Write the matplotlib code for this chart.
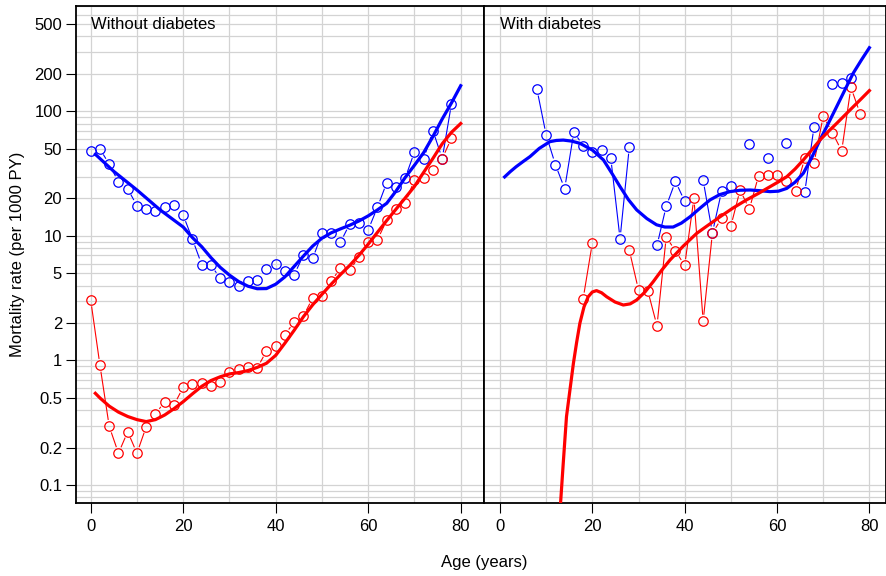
import numpy as np
import matplotlib
matplotlib.use("Agg")
import matplotlib.pyplot as plt
from matplotlib.ticker import NullLocator

plt.rcParams['font.family'] = ['Liberation Sans', 'DejaVu Sans']

nan = np.nan
ages = np.arange(0, 80, 2)

# observed rates (per 1000 PY), no diabetes
nodm_men = [48.4, 50, 37.7, 27.2, 23.9, 17.5, 16.5, 16.0, 17.0, 17.7,
            14.7, 9.4, 5.9, 5.8, 4.6, 4.3, 4.0, 4.35, 4.4, 5.4,
            5.96, 5.26, 4.9, 7.0, 6.6, 10.5, 10.5, 8.9, 12.5, 12.8,
            11.2, 17.0, 26.8, 24.6, 29.2, 47.3, 41.8, 70, 41.8, 115]
nodm_women = [3.06, 0.915, 0.296, 0.18, 0.268, 0.18, 0.294, 0.372, 0.467, 0.44,
              0.609, 0.651, 0.66, 0.624, 0.668, 0.813, 0.85, 0.887, 0.87, 1.19,
              1.31, 1.61, 2.04, 2.28, 3.18, 3.3, 4.35, 5.5, 5.3, 6.8,
              8.9, 9.3, 13.4, 16.4, 18.5, 28.1, 29, 33.9, 41.8, 61]
# observed rates, with diabetes (nan = no deaths)
dm_men = [nan, nan, nan, nan, 150.8, 64.7, 37.4, 24, 68.4, 53.1,
          47, 49.3, 42, 9.5, 51.6, nan, nan, 8.4, 17.3, 27.5,
          19, nan, 28, 10.6, 22.9, 25.2, nan, 54.8, nan, 42.6,
          nan, 56.2, nan, 22.4, 74.7, nan, 167, 170, 187, nan]
dm_women = [nan, nan, nan, nan, nan, nan, nan, nan, nan, 3.12,
            8.8, nan, nan, nan, 7.7, 3.68, 3.64, 1.9, 9.8, 7.6,
            5.8, 20.1, 2.07, 10.5, 13.9, 12.0, 23.4, 16.4, 30.5, 30.9,
            30.9, 27.8, 23, 42, 38.4, 91.5, 67.6, 48.2, 156, 96]

# fitted curves
fit_nodm_men_x = [1, 5, 10, 15, 20, 22, 24, 26, 28, 30, 32, 34, 36, 38, 40, 42, 44, 46, 48,
                  50, 52, 54, 56, 58, 60, 62, 64, 66, 68, 70, 72, 74, 76, 78, 80]
fit_nodm_men_y = [45.3, 33, 23.4, 16.2, 11.8, 9.7, 8.2, 6.7, 5.6, 4.85, 4.3, 3.95, 3.77, 3.78,
                  4.1, 4.7, 5.7, 6.9, 8.3, 9.6, 10.6, 11.4, 12.2, 13.2, 14.5, 16.2, 18.3,
                  22.9, 29.5, 37, 46.8, 63, 87, 117, 161]
fit_nodm_women_x = [1, 2, 4, 6, 8, 10, 12, 14, 16, 18, 20, 22, 24, 26, 28, 30, 32, 34, 36, 38,
                    40, 42, 44, 46, 48, 50, 52, 54, 56, 58, 60, 62, 64, 66, 68, 70, 72, 74,
                    76, 78, 80]
fit_nodm_women_y = [0.545, 0.5, 0.43, 0.385, 0.355, 0.335, 0.323, 0.335, 0.365, 0.41, 0.467,
                    0.54, 0.62, 0.69, 0.74, 0.78, 0.8, 0.83, 0.88, 0.95, 1.1, 1.38, 1.75,
                    2.25, 2.8, 3.4, 4.1, 4.9, 5.8, 7.0, 8.6, 10.7, 13.3, 16.4, 20.2, 25,
                    32.5, 42, 55, 68, 80]
fit_dm_men_x = [1, 2.2, 3.5, 5, 6.5, 8.5, 10.8, 12.2, 13.7, 15.5, 17.3, 20, 22.4, 24.2, 26,
                27.8, 29.6, 31.8, 33.9, 35.7, 37.5, 39.3, 41.2, 43.3, 45.5, 47.6, 49.8, 52,
                54.2, 56.3, 58.5, 60.3, 62.1, 63.9, 65.7, 67.5, 69.3, 71.1, 72.9, 74.7, 76.5,
                78.3, 80]
fit_dm_men_y = [29.8, 32.8, 36, 39.6, 43.4, 50.5, 57.2, 58.5, 58.9, 57.8, 55.5, 49, 40.8, 32,
                24.9, 19.6, 16.2, 13.8, 12.3, 11.8, 11.8, 12.7, 14.3, 16.7, 19.5, 21.5, 22.7,
                23.3, 23.4, 23.1, 22.7, 22.9, 24.1, 27, 31.9, 42.5, 59, 80, 109, 149, 203,
                260, 325]
fit_dm_women_x = [12.6, 13.1, 13.7, 14.4, 15.2, 15.9, 16.6, 17.3, 18.2, 19.1, 20, 20.9, 22,
                  23.1, 24.9, 26.7, 28.2, 29.6, 31.4, 33.2, 35, 36.8, 39.7, 42.6, 45.2, 47.7,
                  50.5, 53.4, 56, 58.5, 60.3, 62.1, 63.9, 65.7, 67.5, 69.3, 71.1, 72.9, 74.7,
                  76.5, 78.3, 80]
fit_dm_women_y = [0.03, 0.07, 0.15, 0.354, 0.6, 0.95, 1.4, 1.99, 2.7, 3.25, 3.55, 3.64, 3.5,
                  3.25, 2.95, 2.79, 2.85, 3.06, 3.55, 4.3, 5.3, 6.4, 8.3, 10.5, 12.3, 14.3,
                  16.8, 19.5, 22, 24.9, 27.2, 29.9, 34.5, 40.8, 49, 59, 69, 80.1, 93.5, 109,
                  127, 147]

ytick_vals = [0.1, 0.2, 0.5, 1, 2, 5, 10, 20, 50, 100, 200, 500]
ytick_labs = ['0.1', '0.2', '0.5', '1', '2', '5', '10', '20', '50', '100', '200', '500']
xtick_vals = [0, 20, 40, 60, 80]

W, H = 886, 576
fig = plt.figure(figsize=(W / 100, H / 100), dpi=100)
ax1 = fig.add_axes([76 / W, 1 - 503 / H, (484.3 - 76) / W, 497 / H])
ax2 = fig.add_axes([484.3 / W, 1 - 503 / H, (886 - 484.3) / W, 497 / H])

ax1.set_xlim(-3.18, 85.1)
ax2.set_xlim(-3.4, 83.6)


def type_b(ax, x, y, col, gap=7.0):
    # R style type="b": points joined by lines that stop short of the circles
    x = np.asarray(x, float)
    y = np.asarray(y, float)
    ax.plot(x, y, 'o', mfc='none', mec=col, ms=6.8, mew=0.9, zorder=3)
    inv = ax.transData.inverted()
    for i in range(len(x) - 1):
        if np.isnan(y[i]) or np.isnan(y[i + 1]):
            continue
        p0 = ax.transData.transform((x[i], y[i]))
        p1 = ax.transData.transform((x[i + 1], y[i + 1]))
        d = p1 - p0
        L = np.hypot(d[0], d[1])
        if L <= 2 * gap + 1:
            continue
        u = d / L
        a = inv.transform(p0 + u * gap)
        b = inv.transform(p1 - u * gap)
        ax.plot([a[0], b[0]], [a[1], b[1]], color=col, lw=0.8, zorder=3)


for ax in (ax1, ax2):
    ax.set_yscale('log')
    ax.set_ylim(0.0717, 703)
    for k in range(-2, 3):
        for m in range(1, 10):
            ax.axhline(m * 10.0 ** k, color='#d3d3d3', lw=0.9, zorder=0)
    for v in range(0, 90, 10):
        ax.axvline(v, color='#d3d3d3', lw=0.9, zorder=0)
    ax.set_xticks(xtick_vals)
    ax.set_xticklabels([str(v) for v in xtick_vals])
    ax.yaxis.set_minor_locator(NullLocator())
    ax.tick_params(axis='x', direction='out', length=7.5, width=0.8, labelsize=12, pad=4)
    for s in ax.spines.values():
        s.set_linewidth(1.3)

ax1.set_yticks(ytick_vals)
ax1.set_yticklabels(ytick_labs)
ax1.tick_params(axis='y', direction='out', length=7.5, width=0.8, labelsize=12, pad=2.5)
ax2.tick_params(axis='y', left=False, labelleft=False)

fig.canvas.draw()

type_b(ax1, ages, nodm_men, 'blue')
type_b(ax1, ages, nodm_women, 'red')
ax1.plot(fit_nodm_men_x, fit_nodm_men_y, color='blue', lw=2.3, zorder=4)
ax1.plot(fit_nodm_women_x, fit_nodm_women_y, color='red', lw=2.3, zorder=4)

type_b(ax2, ages, dm_men, 'blue')
type_b(ax2, ages, dm_women, 'red')
ax2.plot(fit_dm_men_x, fit_dm_men_y, color='blue', lw=2.3, zorder=4)
ax2.plot(fit_dm_women_x, fit_dm_women_y, color='red', lw=2.3, zorder=4)

ax1.text(0, 500, 'Without diabetes', ha='left', va='center', fontsize=12)
ax2.text(0, 500, 'With diabetes', ha='left', va='center', fontsize=12)

fig.text(484 / W, 1 - 563 / H, 'Age (years)', ha='center', va='center', fontsize=12)
fig.text(18 / W, 1 - 254 / H, 'Mortality rate (per 1000 PY)', ha='center', va='center',
         rotation=90, fontsize=12)

fig.savefig('out.png', dpi=100)
